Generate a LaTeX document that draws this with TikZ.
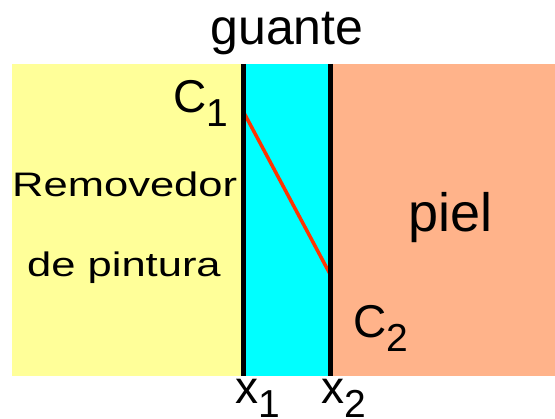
\documentclass[tikz,border=0pt]{standalone}
\usepackage{fontspec}
\setmainfont{Liberation Sans}
\newfontfamily\widefont{Liberation Sans}[FakeStretch=1.28]
\usetikzlibrary{positioning, calc}
\definecolor{removedor}{HTML}{FFFF99}
\definecolor{guante}{HTML}{00FFFF}
\definecolor{piel}{HTML}{FFB38A}
\definecolor{perfil}{HTML}{FF3300}
\newcommand{\lowidx}[1]{\raisebox{-14pt}{\fontsize{39}{39}\selectfont #1}}

\begin{document}
\begin{tikzpicture}[x=1pt, y=-1pt,
    % Define layer styles
    layer/.style={draw=none, inner sep=0pt, outer sep=0pt, anchor=north west, minimum height=312},
    wall/.style={line width=5pt},
    profile/.style={draw=perfil, line width=3.5pt},
    % Define text styles
    txt/.style={inner sep=0pt, anchor=base west},
    big/.style={txt, font=\fontsize{46}{46}\selectfont},
    side/.style={txt, font=\widefont\fontsize{34}{34}\selectfont},
]
\useasboundingbox (0,0) rectangle (555,419);

% The three layers
\node[layer, fill=removedor, minimum width=231] (solvent) at (12,64) {};
\node[layer, fill=guante, minimum width=87] (glove) at (solvent.north east) {};
\node[layer, fill=piel, minimum width=225] (skin) at (glove.north east) {};

% Concentration profile across the glove
\coordinate (c1) at ($(glove.north west)+(0,47)$);
\coordinate (c2) at ($(glove.north east)+(0,210)$);
\draw[profile] (c1) -- (c2);

% Glove walls
\draw[wall] (glove.north west) -- (glove.south west);
\draw[wall] (glove.north east) -- (glove.south east);

% Labels
\node[big, anchor=base, font=\fontsize{50}{50}\selectfont] (title) at (287,45) {guante};
\node[big] (C1) at (173,113) {C\lowidx{1}};
\node[big] (C2) at (353,338) {C\lowidx{2}};
\node[big, font=\fontsize{54}{54}\selectfont] (skinlabel) at (408,232) {piel};
\node[side] (solvent1) at (12,197) {Removedor};
\node[side] (solvent2) at (27,277) {de pintura};
\node[big] (x1) at (235,404) {x\lowidx{1}};
\node[big] (x2) at (321,404) {x\lowidx{2}};
\end{tikzpicture}
\end{document}
